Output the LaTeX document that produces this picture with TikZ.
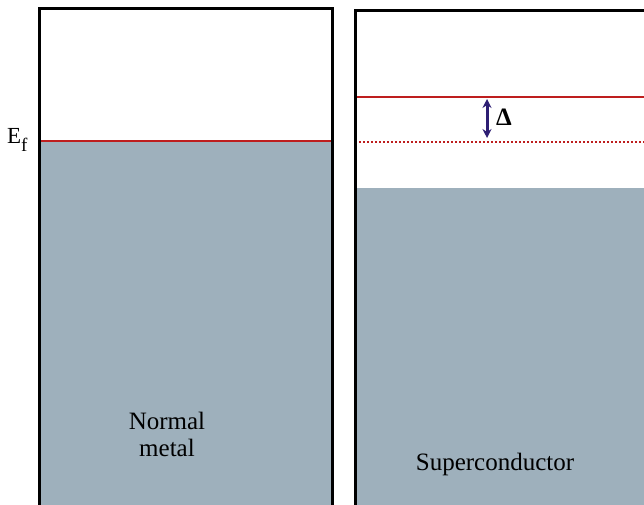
\documentclass[tikz,border=0pt]{standalone}
\usepackage{fontspec}
\setmainfont{Liberation Serif}
\usetikzlibrary{arrows.meta}
\definecolor{band}{RGB}{158,176,188}
\definecolor{level}{RGB}{190,30,30}
\definecolor{gaparrow}{RGB}{45,30,115}
\begin{document}
\begin{tikzpicture}[x=1pt,y=-1pt,
  frame/.style={line width=3pt,black},
  lvl/.style={line width=2.5pt,level},
  lbl/.style={font=\fontsize{25}{27}\selectfont,inner sep=0pt,align=center}]
\useasboundingbox (0,0) rectangle (644,505);
% fills
\fill[band] (39,141) rectangle (332,505);
\fill[band] (355,188) rectangle (644,505);
% levels
\draw[lvl] (39,141) -- (332,141);
\draw[lvl] (355,97) -- (644,97);
\draw[lvl,line width=2pt,dash pattern=on 2pt off 2pt] (355,142) -- (644,142);
% frames
\draw[frame] (39,507) -- (39,9) -- (332,9) -- (332,507);
\draw[frame] (355,507) -- (355,11) -- (646,11);
% gap arrow
\coordinate (gt) at (487,99);
\coordinate (gb) at (487,138);
\draw[gaparrow,line width=3pt,{Stealth[length=9pt,width=9pt]}-{Stealth[length=9pt,width=9pt]}] (gt) -- (gb);
\node[lbl,font=\fontsize{25}{27}\selectfont\bfseries,anchor=base west] (delta) at (496,126) {Δ};
% labels
\node[lbl,font=\fontsize{23}{25}\selectfont,anchor=base west] (ef) at (7,144) {E\raisebox{-7pt}{\fontsize{19}{19}\selectfont f}};
\node[lbl,anchor=base] (nm) at (167,456) {Normal\\metal};
\node[lbl,anchor=base] (sc) at (495,470) {Superconductor};
\end{tikzpicture}
\end{document}
